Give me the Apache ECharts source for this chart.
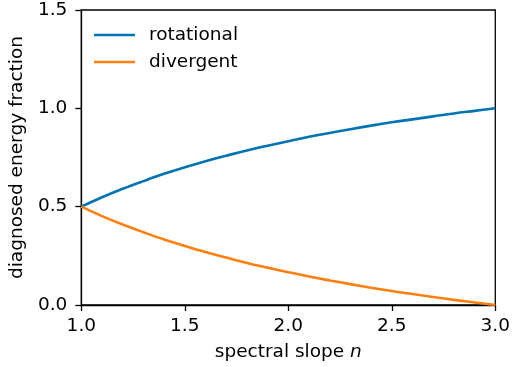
<!DOCTYPE html>
<html>
<head>
<meta charset="utf-8">
<script src="https://cdn.jsdelivr.net/npm/echarts@6/dist/echarts.min.js"></script>
<style>html,body{margin:0;padding:0;background:#fff}#c{width:513px;height:367px}</style>
</head>
<body>
<div id="c"></div>
<script>
const slopes = [1.0,1.1,1.2,1.3,1.4,1.5,1.6,1.7,1.8,1.9,2.0,2.1,2.2,2.3,2.4,2.5,2.6,2.7,2.8,2.9,3.0];
const rotational = [0.500,0.548,0.591,0.630,0.667,0.700,0.731,0.759,0.786,0.810,0.833,0.855,0.875,0.894,0.912,0.929,0.944,0.959,0.974,0.987,1.000];
const divergent = [0.500,0.452,0.409,0.370,0.333,0.300,0.269,0.241,0.214,0.190,0.167,0.145,0.125,0.106,0.088,0.071,0.056,0.041,0.026,0.013,0.000];
const seriesNames = ['rotational','divergent'];
const xTicks = [1.0,1.5,2.0,2.5,3.0];
const yTicks = [0.0,0.5,1.0,1.5];

const FONT = 'DejaVu Sans';
const FS = 18.5;
const chart = echarts.init(document.getElementById('c'), null, {renderer:'canvas'});
const axisCommon = {
  axisLine:{show:true,lineStyle:{color:'#000',width:1.3}},
  axisTick:{show:true,inside:false,length:6,lineStyle:{color:'#000',width:1.3}},
  splitLine:{show:false},
  axisLabel:{color:'#000',fontFamily:FONT,fontSize:FS,formatter:v=>v.toFixed(1)}
};
chart.setOption({
  animation:false,
  backgroundColor:'#fff',
  textStyle:{fontFamily:FONT},
  grid:{left:79,right:16,top:10,bottom:62,show:true,borderColor:'#000',borderWidth:1.3,containLabel:false},
  legend:{
    orient:'vertical',left:94,top:24,padding:0,itemGap:5,
    itemWidth:41,itemHeight:2.6,icon:'rect',
    textStyle:{fontFamily:FONT,fontSize:FS,color:'#000',lineHeight:22,padding:[0,0,0,9]},
    data:seriesNames
  },
  xAxis:Object.assign({},axisCommon,{
    type:'value',min:xTicks[0],max:xTicks[xTicks.length-1],interval:0.5,
    axisLabel:Object.assign({},axisCommon.axisLabel,{margin:12}),
    name:'{a|spectral slope }{b|n}',nameLocation:'middle',nameGap:38,
    nameTextStyle:{rich:{a:{fontFamily:FONT,fontSize:FS,color:'#000'},b:{fontFamily:FONT,fontSize:FS,color:'#000',fontStyle:'italic'}}}
  }),
  yAxis:Object.assign({},axisCommon,{
    type:'value',min:yTicks[0],max:yTicks[yTicks.length-1],interval:0.5,
    axisLabel:Object.assign({},axisCommon.axisLabel,{margin:14}),
    name:'diagnosed energy fraction',nameLocation:'middle',nameGap:51,
    nameTextStyle:{fontFamily:FONT,fontSize:FS,color:'#000'}
  }),
  series:[
    {name:seriesNames[0],type:'line',data:slopes.map((x,i)=>[x,rotational[i]]),smooth:0.4,showSymbol:false,symbol:'none',
     lineStyle:{color:'#0173b2',width:2.6},itemStyle:{color:'#0173b2'}},
    {name:seriesNames[1],type:'line',data:slopes.map((x,i)=>[x,divergent[i]]),smooth:0.4,showSymbol:false,symbol:'none',
     lineStyle:{color:'#ff7f0e',width:2.6},itemStyle:{color:'#ff7f0e'}}
  ]
});
</script>
</body>
</html>
